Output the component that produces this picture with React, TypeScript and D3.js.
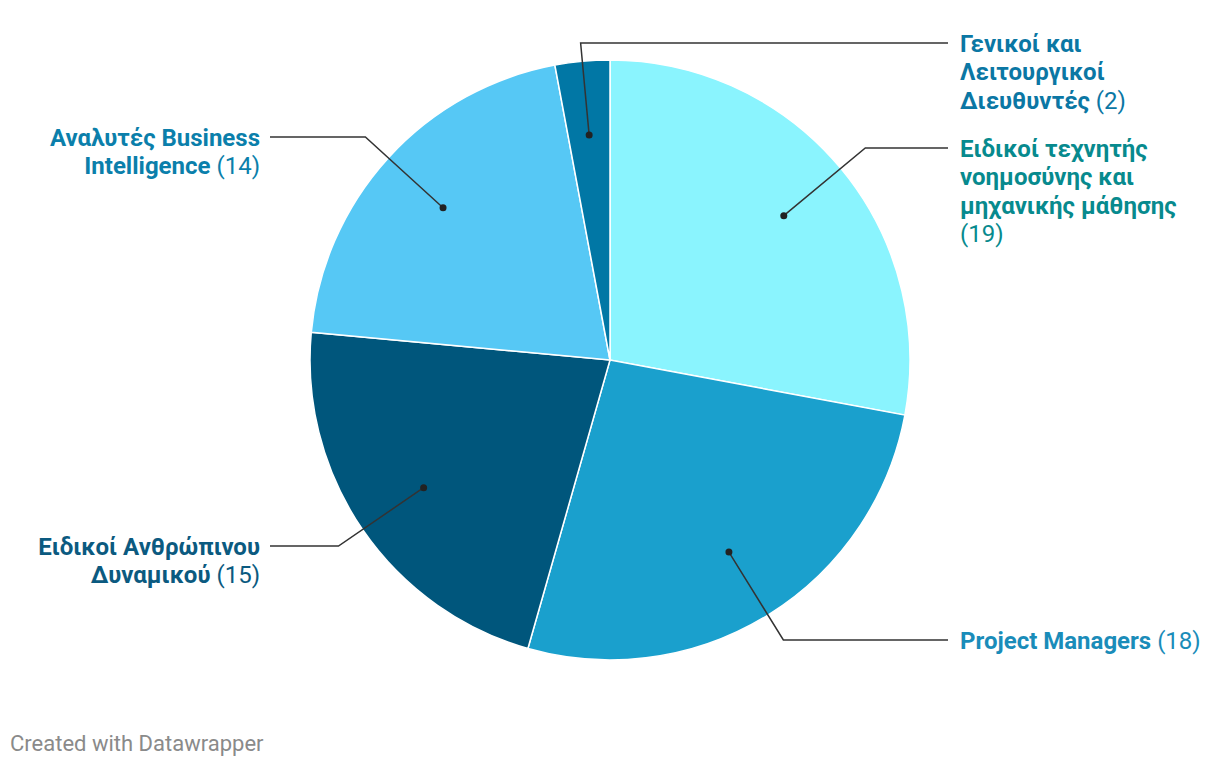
import React from "react";
import * as d3 from "d3";

const categories = [
  "Ειδικοί τεχνητής νοημοσύνης και μηχανικής μάθησης",
  "Project Managers",
  "Ειδικοί Ανθρώπινου Δυναμικού",
  "Αναλυτές Business Intelligence",
  "Γενικοί και Λειτουργικοί Διευθυντές",
];
const values = [19, 18, 15, 14, 2];
const sliceColors = ["#8af4fe", "#1aa0cd", "#00567c", "#56c8f5", "#0177a5"];
const labelColors = ["#078a8e", "#1a8cb9", "#0b5a80", "#0b7fab", "#0b77a4"];
// label text lines (last line gets value appended)
const labelLines = [
  ["Ειδικο\u1F77 τεχνητής", "νοημοσύνης και", "μηχανικής μάθησης", ""],
  ["Project Managers"],
  ["Ειδικο\u1F77 Ανθρώπινου", "Δυναμικού"],
  ["Αναλυτές Business", "Intelligence"],
  ["Γενικο\u1F77 και", "Λειτουργικο\u1F77", "Διευθυντές"],
];
const labelY = [148, 640, 546, 137, 43];
const labelSide = ["right", "right", "left", "left", "right"];

const W = 1220, H = 766;
const cx = 610, cy = 360, R = 300;
const lineH = 28.5;

export default function App() {
  const pie = d3.pie<number>().sort(null).value((d) => d)(values);
  const arc = d3.arc<d3.PieArcDatum<number>>().innerRadius(0).outerRadius(R);
  return (
    <svg width={W} height={H} style={{ position: "absolute", left: 0, top: 0, background: "#fff" }}
      fontFamily="Roboto, sans-serif">
      <g transform={`translate(${cx},${cy})`}>
        {pie.map((p, i) => (
          <path key={i} d={arc(p) || ""} fill={sliceColors[i]} stroke="#fff" strokeWidth={1.5} />
        ))}
      </g>
      {pie.map((p, i) => {
        const mid = (p.startAngle + p.endAngle) / 2;
        const dx = Math.sin(mid), dy = -Math.cos(mid);
        const dotX = cx + dx * R * 0.753, dotY = cy + dy * R * 0.753;
        const t = (labelY[i] - cy) / dy;
        const ex = cx + dx * t, ey = labelY[i];
        const right = labelSide[i] === "right";
        const hx = right ? 948 : 270;
        const tx = right ? 960 : 260;
        const lines = labelLines[i];
        return (
          <g key={i}>
            <polyline points={`${dotX},${dotY} ${ex},${ey} ${hx},${ey}`} fill="none" stroke="#333" strokeWidth={1.5} />
            <circle cx={dotX} cy={dotY} r={3.5} fill="#222" />
            <text x={tx} y={ey + 8.5} fontSize={24} fill={labelColors[i]} textAnchor={right ? "start" : "end"}>
              {lines.map((ln, j) => (
                <tspan key={j} x={tx} y={ey + 8.5 + j * lineH}>
                  <tspan fontWeight={700}>{ln}</tspan>
                  {j === lines.length - 1 ? (
                    <tspan fontWeight={400}>{(ln ? " " : "") + "(" + values[i] + ")"}</tspan>
                  ) : null}
                </tspan>
              ))}
            </text>
          </g>
        );
      })}
      <text x={10} y={751} fontSize={22} fill="#8a8a8a">Created with Datawrapper</text>
    </svg>
  );
}
